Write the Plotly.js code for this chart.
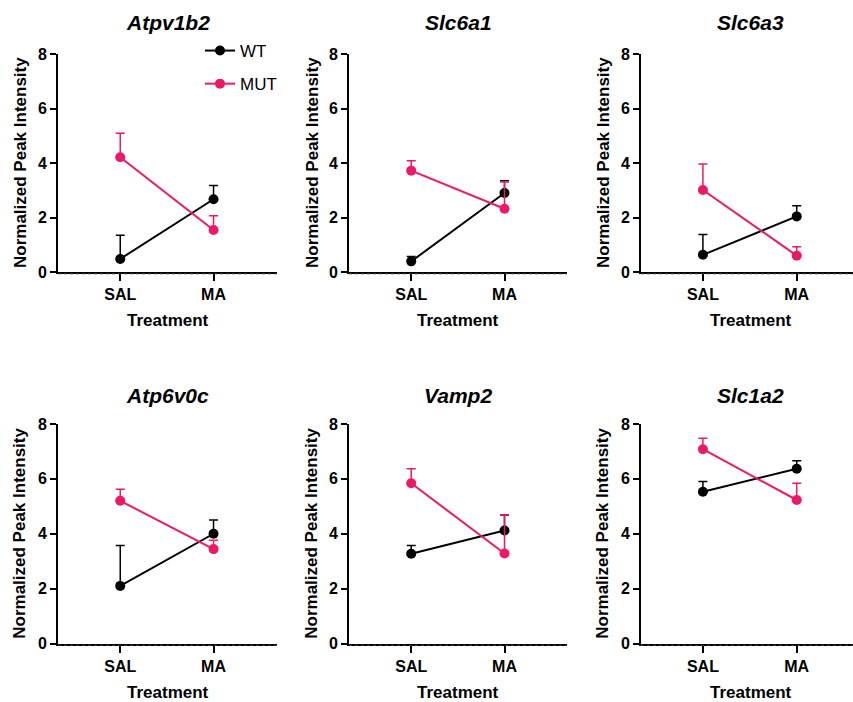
<!DOCTYPE html>
<html>
<head>
<meta charset="utf-8">
<script src="https://cdn.plot.ly/plotly-3.0.1.min.js"></script>
<style>html,body{margin:0;padding:0;background:#fff}#chart{width:853px;height:702px}</style>
</head>
<body>
<div id="chart"></div>
<script>
// ---- data ----
const genes = ["Atpv1b2", "Slc6a1", "Slc6a3", "Atp6v0c", "Vamp2", "Slc1a2"];
const treatments = ["SAL", "MA"];
const wtSAL     = [0.48, 0.39, 0.63, 2.10, 3.27, 5.53];
const wtSALerr  = [0.87, 0.18, 0.75, 1.47, 0.30, 0.37];
const wtMA      = [2.67, 2.90, 2.04, 4.00, 4.12, 6.37];
const wtMAerr   = [0.50, 0.45, 0.39, 0.50, 0.56, 0.29];
const mutSAL    = [4.21, 3.72, 3.01, 5.20, 5.84, 7.08];
const mutSALerr = [0.88, 0.36, 0.95, 0.42, 0.53, 0.40];
const mutMA     = [1.54, 2.32, 0.60, 3.44, 3.28, 5.23];
const mutMAerr  = [0.52, 0.98, 0.33, 0.32, 1.40, 0.61];
const yTicks = [0, 2, 4, 6, 8];
const seriesNames = ["WT", "MUT"];

// ---- layout helpers ----
const W = 853, H = 702;
const BLACK = "#000000", PINK = "#EE1869";
const FONT = "Liberation Sans, Arial, sans-serif";
const colPx = [[58, 277], [349, 567], [641, 853]];
const xRanges = [[-0.667, 1.68], [-0.667, 1.67], [-0.66, 1.6]];
const rowPx = [[54, 272], [424, 643.5]];
const titleY = [23, 395];
const xTitleY = [320, 692];
const yTitleX = [20, 312, 603];

const traces = [];
const layout = {
  width: W, height: H,
  margin: {l: 0, r: 0, t: 0, b: 0},
  paper_bgcolor: "#fff", plot_bgcolor: "#fff",
  font: {family: FONT, color: BLACK},
  showlegend: true,
  legend: {x: 200 / W, y: 1 - 33 / H, xanchor: "left", yanchor: "top",
           font: {family: FONT, size: 17, color: BLACK}, tracegroupgap: 8,
           bgcolor: "rgba(0,0,0,0)"},
  annotations: [], shapes: []
};

genes.forEach((g, i) => {
  const r = Math.floor(i / 3), c = i % 3;
  const k = i === 0 ? "" : String(i + 1);
  const xa = "x" + k, ya = "y" + k;
  const series = [
    {name: seriesNames[0], y: [wtSAL[i], wtMA[i]], e: [wtSALerr[i], wtMAerr[i]], col: BLACK},
    {name: seriesNames[1], y: [mutSAL[i], mutMA[i]], e: [mutSALerr[i], mutMAerr[i]], col: PINK}
  ];
  series.forEach((s) => {
    traces.push({
      type: "scatter", mode: "lines+markers",
      x: treatments, y: s.y, xaxis: xa, yaxis: ya,
      name: s.name, legendgroup: s.name, showlegend: i === 0,
      line: {color: s.col, width: 2},
      marker: {color: s.col, size: 10},
      error_y: {type: "data", symmetric: false, array: s.e, arrayminus: [0, 0],
                color: s.col, thickness: 1.5, width: 4.5},
      cliponaxis: false
    });
  });
  const xd = [colPx[c][0] / W, colPx[c][1] / W];
  const yd = [1 - rowPx[r][1] / H, 1 - rowPx[r][0] / H];
  layout["xaxis" + k] = {
    domain: xd, anchor: ya, type: "category", range: xRanges[c],
    tickmode: "array", tickvals: treatments, ticktext: treatments.map(t => "<b>" + t + "</b>"),
    showline: true, linecolor: BLACK, linewidth: 2, mirror: false,
    ticks: "outside", ticklen: 7, tickwidth: 2, tickcolor: BLACK,
    showgrid: false, zeroline: false, fixedrange: true,
    tickfont: {family: FONT, size: 16, color: BLACK}
  };
  layout["yaxis" + k] = {
    domain: yd, anchor: xa, range: [0, 8],
    tickmode: "array", tickvals: yTicks, ticktext: yTicks.map(t => "<b>" + t + "</b>"),
    showline: true, linecolor: BLACK, linewidth: 2,
    ticks: "outside", ticklen: 6, tickwidth: 2, tickcolor: BLACK,
    showgrid: false, zeroline: false, fixedrange: true,
    tickfont: {family: FONT, size: 16, color: BLACK}
  };
  layout.annotations.push({
    text: "<b><i>" + g + "</i></b>", xref: "paper", yref: "paper",
    x: (colPx[c][0] + 109.5) / W, y: 1 - titleY[r] / H, xanchor: "center", yanchor: "middle",
    showarrow: false, font: {family: FONT, size: 21, color: BLACK}
  });
  layout.annotations.push({
    text: "<b>Treatment</b>", xref: "paper", yref: "paper",
    x: (colPx[c][0] + 109.5) / W, y: 1 - xTitleY[r] / H, xanchor: "center", yanchor: "middle",
    showarrow: false, font: {family: FONT, size: 17, color: BLACK}
  });
  layout.annotations.push({
    text: "<b>Normalized Peak Intensity</b>", xref: "paper", yref: "paper", textangle: -90,
    x: yTitleX[c] / W, y: 1 - (rowPx[r][0] + rowPx[r][1]) / 2 / H, xanchor: "center", yanchor: "middle",
    showarrow: false, font: {family: FONT, size: 17, color: BLACK}
  });
  // dotted baseline just under the x axis
  layout.shapes.push({
    type: "line", xref: "paper", yref: "paper",
    x0: colPx[c][0] / W, x1: colPx[c][1] / W,
    y0: 1 - (rowPx[r][1] + 1.8) / H, y1: 1 - (rowPx[r][1] + 1.8) / H,
    line: {color: "#444", width: 1, dash: "dot"}
  });
});

Plotly.newPlot("chart", traces, layout, {displayModeBar: false, staticPlot: true});
</script>
</body>
</html>
